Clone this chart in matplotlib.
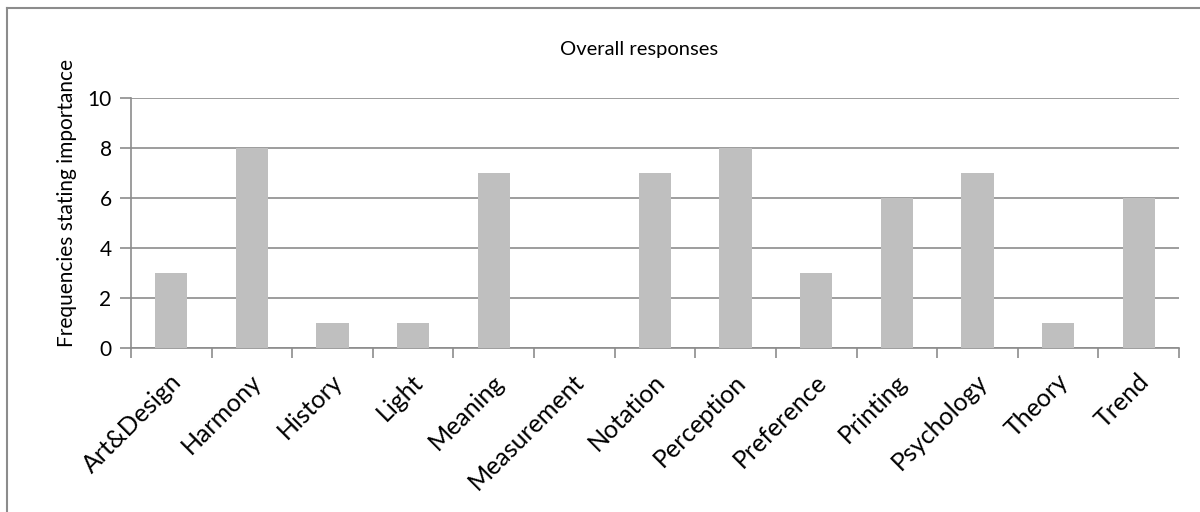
import matplotlib.pyplot as plt
from matplotlib.lines import Line2D

categories = ['Art&Design', 'Harmony', 'History', 'Light', 'Meaning', 'Measurement',
              'Notation', 'Perception', 'Preference', 'Printing', 'Psychology',
              'Theory', 'Trend']
counts = [3, 8, 1, 1, 7, 0, 7, 8, 3, 6, 7, 1, 6]
y_ticks = [0, 2, 4, 6, 8, 10]

W, H = 1200, 512
plt.rcParams['font.family'] = ['Lato', 'DejaVu Sans']

fig = plt.figure(figsize=(W / 100, H / 100), dpi=100)
ax = fig.add_axes([131 / W, 1 - 348 / H, (1179 - 131) / W, (348 - 98) / H])

# chart frame (only top and left edges fall inside the image)
frame = dict(transform=fig.transFigure, color='#8c8c8c', linewidth=1.5)
fig.lines.append(Line2D([7 / W, 7 / W], [0, 1 - 8 / H], **frame))
fig.lines.append(Line2D([7 / W, 1], [1 - 8 / H, 1 - 8 / H], **frame))

x = list(range(len(categories)))
ax.bar(x, counts, width=0.4, color='#bfbfbf', zorder=3)

ax.set_xlim(-0.5, len(categories) - 0.5)
ax.set_ylim(0, 10)
ax.set_yticks(y_ticks)
ax.yaxis.grid(True, color='#8c8c8c', linewidth=1.2, zorder=0)

for side in ['top', 'right']:
    ax.spines[side].set_visible(False)
for side in ['left', 'bottom']:
    ax.spines[side].set_color('#8c8c8c')
    ax.spines[side].set_linewidth(1.2)

# ticks sit between categories
ax.set_xticks([i - 0.5 for i in range(len(categories) + 1)])
ax.set_xticklabels([])
ax.tick_params(axis='x', direction='out', length=7, width=1.2, color='#8c8c8c')
ax.tick_params(axis='y', direction='out', length=8, width=1.2, color='#8c8c8c',
               labelsize=15, pad=6)

for i, name in enumerate(categories):
    ax.annotate(name, xy=(i, 0), xycoords=('data', 'axes fraction'),
                xytext=(-2, -22), textcoords='offset pixels',
                rotation=45, ha='right', va='top', rotation_mode='anchor',
                fontsize=18, color='black')

fig.text(67 / W, 1 - 203 / H, 'Frequencies stating importance', rotation=90,
         ha='center', va='center', fontsize=15)
fig.text(639 / W, 1 - 50 / H, 'Overall responses', ha='center', va='center', fontsize=14.5)

fig.savefig('out.png', dpi=100)
